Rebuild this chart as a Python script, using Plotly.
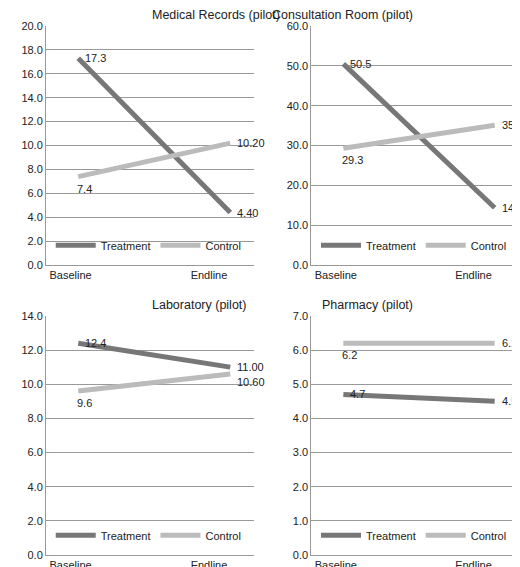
import plotly.graph_objects as go

periods = ["Baseline", "Endline"]
titles = ["Medical Records (pilot)", "Consultation Room (pilot)", "Laboratory (pilot)", "Pharmacy (pilot)"]
treatment = [[17.3, 4.40], [50.5, 14.40], [12.4, 11.00], [4.7, 4.50]]
control = [[7.4, 10.20], [29.3, 35.10], [9.6, 10.60], [6.2, 6.20]]
treat_labels = [["17.3", "4.40"], ["50.5", "14.40"], ["12.4", "11.00"], ["4.7", "4.50"]]
ctrl_labels = [["7.4", "10.20"], ["29.3", "35.10"], ["9.6", "10.60"], ["6.2", "6.20"]]
y_max = [20, 60, 14, 7]
y_step = [2, 10, 2, 1]

fig = go.Figure()
xd = [[0.0, 0.44], [0.562, 1.0]]
yd = [[0.548, 1.0], [0.0, 0.452]]
xpos = [0, 1]
for i in range(4):
    r, c = divmod(i, 2)
    ax = "" if i == 0 else str(i + 1)
    leg = "legend" if i == 0 else f"legend{i+1}"
    fig.add_trace(go.Scatter(x=xpos, y=treatment[i], mode="lines", name="Treatment",
                             line=dict(color="#777777", width=5), xaxis="x" + ax, yaxis="y" + ax, legend=leg))
    fig.add_trace(go.Scatter(x=xpos, y=control[i], mode="lines", name="Control",
                             line=dict(color="#bbbbbb", width=5), xaxis="x" + ax, yaxis="y" + ax, legend=leg))
    fig.update_layout({
        "xaxis" + ax: dict(domain=xd[c], range=[-0.212, 1.154], tickvals=[-0.05, 0.86], ticktext=periods,
                           showgrid=False, showline=True, linecolor="#999", zeroline=False, automargin=False,
                           anchor="y" + ax, tickfont=dict(size=11, color="#222")),
        "yaxis" + ax: dict(domain=yd[r], range=[0, y_max[i]], dtick=y_step[i], tickformat=".1f",
                           showgrid=True, gridcolor="#999", showline=True, linecolor="#999", automargin=False,
                           zeroline=False, anchor="x" + ax, tickfont=dict(size=11, color="#222")),
        leg: dict(x=xd[c][0] + 0.01, y=yd[r][0] + 0.01, xanchor="left", yanchor="bottom",
                  orientation="h", bgcolor="rgba(0,0,0,0)", font=dict(size=11, color="#222"),
                  itemwidth=40),
    })
    for j in range(2):
        fig.add_annotation(x=xpos[j], y=treatment[i][j], text=treat_labels[i][j], xref="x" + ax, yref="y" + ax,
                           xanchor="left", showarrow=False, xshift=5, font=dict(size=11, color="#222"))
        fig.add_annotation(x=xpos[j], y=control[i][j], text=ctrl_labels[i][j], xref="x" + ax, yref="y" + ax,
                           xanchor="left", yanchor="top" if j == 0 else "middle", showarrow=False,
                           xshift=5 if j == 1 else -3, yshift=-4 if j == 0 else (-8 if i == 2 else 0),
                           font=dict(size=11, color="#222"))
    fig.add_annotation(x=(xd[c][0] + xd[c][1]) / 2, y=yd[r][1] + 0.004, xref="paper", yref="paper",
                       text=titles[i], showarrow=False, yanchor="bottom", font=dict(size=12.5, color="#222"))

fig.update_layout(width=520, height=567, margin=dict(l=38, r=10, t=18, b=20, autoexpand=False),
                  plot_bgcolor="white", paper_bgcolor="white", font=dict(family="Liberation Sans, Arial"))
fig.write_html("out.html")
